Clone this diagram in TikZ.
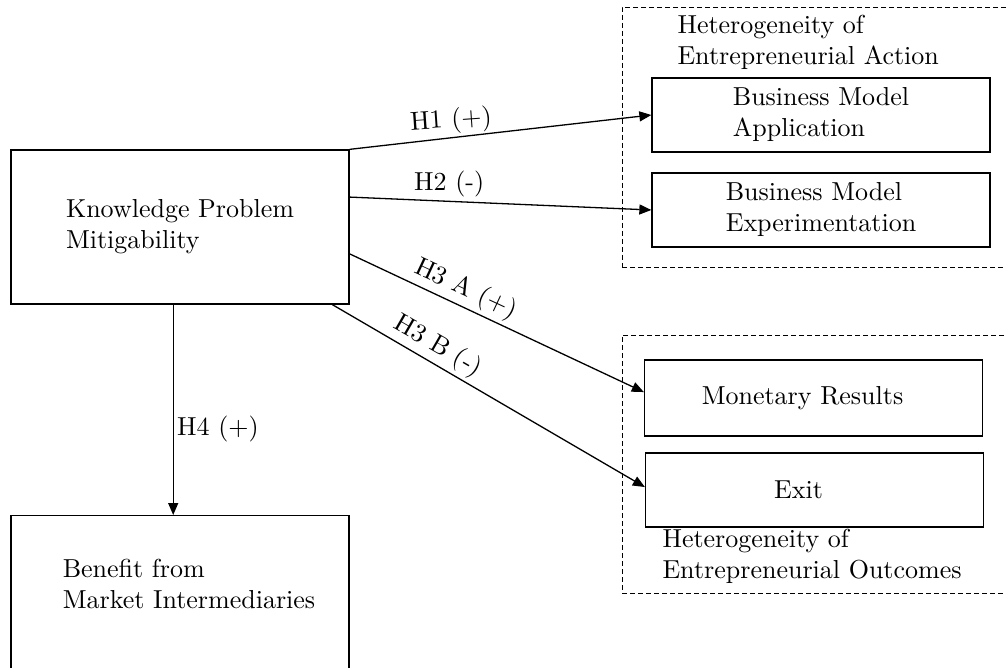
\documentclass[tikz,border=0pt]{standalone}
\usepackage{fontspec}
\setmainfont{lmroman10-regular.otf}
\usetikzlibrary{arrows.meta}

\newcommand{\construct}[4]{%
 \node[cbox,minimum height=#3] ({#1}) at ({#2}) {#4};%
}

\begin{document}
\begin{tikzpicture}[x=1pt,y=-1pt,
  every node/.style={font=\fontsize{26}{31}\selectfont},
  cbox/.style={draw,line width=1.3pt,minimum width=338pt,align=left},
  grpbox/.style={draw,dash pattern=on 5pt off 3pt,line width=.9pt,minimum width=398pt},
  hyp/.style={-{Triangle[length=12pt,width=10pt]},line width=1.3pt}]
  \useasboundingbox (0,0) rectangle (1006,668);
  % dashed groups
  \node[grpbox,minimum height=260pt] (actgrp) at (821,137) {};
  \node[grpbox,minimum height=258pt] (outgrp) at (821,464) {};
  \node[anchor=north west,align=left] (acthead) at (674,12) {Heterogeneity of\\Entrepreneurial Action};
  \node[anchor=north west,align=left] (outhead) at (659,526) {Heterogeneity of\\Entrepreneurial Outcomes};
  % constructs
  \construct{kpm}{180,227}{154pt}{Knowledge Problem\\Mitigability}
  \node[cbox,minimum height=220pt,anchor=north] (bmi) at (180,515) {};
  \node[align=left] (bmitext) at (189,584) {Benefit from\\Market Intermediaries};
  \construct{bma}{821,115}{74pt}{Business Model\\Application}
  \construct{bme}{821,210}{74pt}{Business Model\\Experimentation}
  \construct{mon}{813.5,398}{76pt}{Monetary Results\hspace*{22pt}}
  \construct{exit}{814.5,490}{74pt}{Exit\hspace*{32pt}}
  % hypotheses
  \path[hyp] (kpm.north east) edge node[pos=.34,above,rotate=4] {H1 (+)} (bma.west);
  \path[hyp] (kpm.10) edge node[pos=.33,above] {H2 (-)} (bme.west);
  \path[hyp] (kpm.-9) edge node[pos=.37,above,rotate=-25] {H3 A (+)} (mon.178);
  \path[hyp] (kpm.-27.6) edge node[pos=.31,above,rotate=-30] {H3 B (-)} (exit.179);
  \path[hyp] (kpm.-95) edge node[pos=.59,right] {H4 (+)} (kpm.-95 |- bmi.north);
\end{tikzpicture}
\end{document}
